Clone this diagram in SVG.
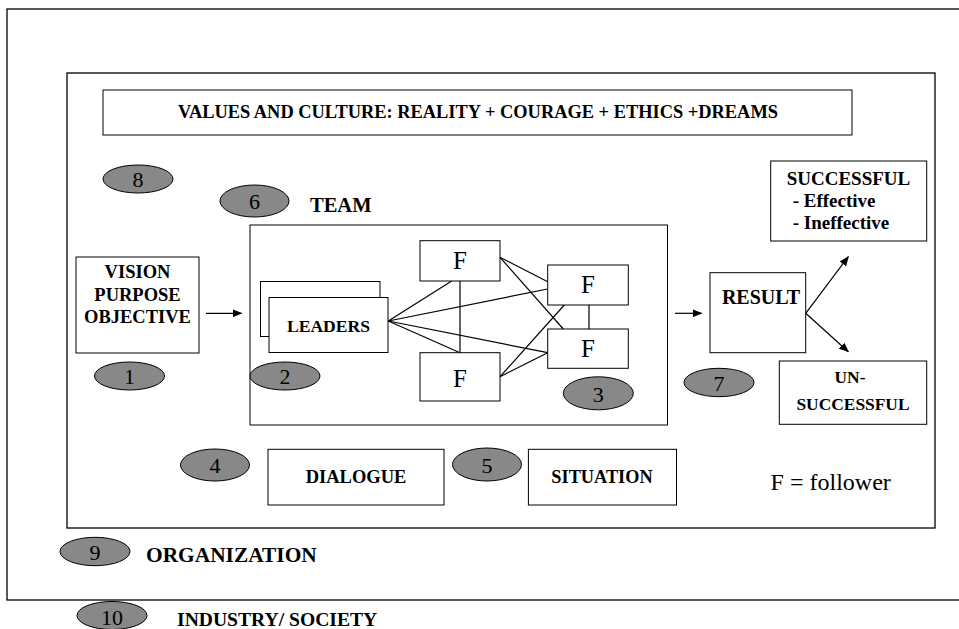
<svg xmlns="http://www.w3.org/2000/svg" width="959" height="629" viewBox="0 0 959 629">
<style>
text{font-family:"Liberation Serif","Times New Roman","DejaVu Serif","Noto Serif",serif;fill:#000}
.box{fill:#fff;stroke:#000;stroke-width:1}
.frame{fill:none;stroke:#000;stroke-width:1.3}
.ov{fill:#888;stroke:#000;stroke-width:1}
.num{font-size:22px;text-anchor:middle}
.b{font-weight:bold}
.c{text-anchor:middle}
.f{font-size:25px;text-anchor:middle}
.ln{stroke:#000;stroke-width:1.2;fill:none}
</style>
<defs>
<marker id="ah" markerWidth="10" markerHeight="8" refX="9" refY="4" orient="auto" markerUnits="userSpaceOnUse">
<path d="M0,0 L10,4 L0,8 Z" fill="#000"/>
</marker>
</defs>
<rect width="959" height="629" fill="#fff"/>
<g id="frames">
<rect class="frame" x="7" y="9" width="1000" height="591"/>
<rect class="frame" x="67" y="73" width="868" height="455"/>
</g>
<g id="values">
<rect class="box" x="103" y="90" width="749" height="45"/>
<text class="b c" x="478" y="118" font-size="18.4">VALUES AND CULTURE: REALITY + COURAGE + ETHICS +DREAMS</text>
</g>
<g id="n8"><ellipse class="ov" cx="138" cy="179" rx="35" ry="14"/><text class="num" x="138" y="187">8</text></g>
<g id="n6"><ellipse class="ov" cx="254.5" cy="201" rx="34.5" ry="16"/><text class="num" x="254.5" y="209">6</text></g>
<g id="team-label"><text class="b" x="310" y="212" font-size="20.5">TEAM</text></g>
<g id="vision">
<rect class="box" x="76" y="257" width="123" height="96"/>
<text class="b c" x="137.5" y="278" font-size="18.5">VISION</text>
<text class="b c" x="137.5" y="301" font-size="18.5">PURPOSE</text>
<text class="b c" x="137.5" y="323" font-size="18.5">OBJECTIVE</text>
</g>
<g id="n1"><ellipse class="ov" cx="129.5" cy="376" rx="35" ry="14"/><text class="num" x="129.5" y="384">1</text></g>
<g id="team">
<rect class="box" x="250" y="225" width="417.5" height="200"/>
</g>
<g id="leaders">
<rect class="box" x="260.5" y="281.5" width="119.5" height="55"/>
<rect class="box" x="269" y="297.5" width="119" height="55"/>
<text class="b c" x="328.5" y="332" font-size="17.6">LEADERS</text>
</g>
<g id="n2"><ellipse class="ov" cx="285" cy="376" rx="35" ry="14"/><text class="num" x="285" y="384">2</text></g>
<g id="connectors">
<line class="ln" x1="206" y1="313.3" x2="241.5" y2="313.3" marker-end="url(#ah)"/>
<line class="ln" x1="388.3" y1="321" x2="451.7" y2="281"/>
<line class="ln" x1="388.3" y1="321" x2="547.7" y2="289"/>
<line class="ln" x1="388.3" y1="321" x2="547.7" y2="352.7"/>
<line class="ln" x1="388.3" y1="321" x2="460" y2="352.7"/>
<line class="ln" x1="460" y1="281" x2="460" y2="352.7"/>
<line class="ln" x1="589" y1="305" x2="589" y2="329"/>
<line class="ln" x1="500" y1="257.3" x2="547.7" y2="281.7"/>
<line class="ln" x1="500" y1="257.3" x2="563.3" y2="329"/>
<line class="ln" x1="500" y1="376.7" x2="564.3" y2="305"/>
<line class="ln" x1="500" y1="376.7" x2="547.7" y2="352.7"/>
<line class="ln" x1="675" y1="313.3" x2="701.5" y2="313.3" marker-end="url(#ah)"/>
<line class="ln" x1="805.7" y1="313.3" x2="848.3" y2="256.7" marker-end="url(#ah)"/>
<line class="ln" x1="805.7" y1="313.3" x2="848.3" y2="351.7" marker-end="url(#ah)"/>
</g>
<g id="f1"><rect class="box" x="420" y="240.7" width="80" height="40.3"/><text class="f" x="460" y="268.5">F</text></g>
<g id="f2"><rect class="box" x="420" y="352.7" width="80" height="48.3"/><text class="f" x="460" y="386.5">F</text></g>
<g id="f3"><rect class="box" x="547.7" y="265" width="80.6" height="40"/><text class="f" x="588" y="293">F</text></g>
<g id="f4"><rect class="box" x="547.7" y="329" width="80.6" height="39.3"/><text class="f" x="588" y="357">F</text></g>
<g id="n3"><ellipse class="ov" cx="598.3" cy="393.3" rx="35" ry="16.5"/><text class="num" x="598.3" y="401.5">3</text></g>
<g id="result">
<rect class="box" x="710" y="272.7" width="95.7" height="80"/>
<text class="b c" x="761" y="304" font-size="20">RESULT</text>
</g>
<g id="n7"><ellipse class="ov" cx="719" cy="382.5" rx="35" ry="14.2"/><text class="num" x="719" y="390.5">7</text></g>
<g id="successful">
<rect class="box" x="770.7" y="161" width="156" height="80"/>
<text class="b c" x="848.5" y="185" font-size="19">SUCCESSFUL</text>
<text class="b" x="792.7" y="207" font-size="19">- Effective</text>
<text class="b" x="792.7" y="228.5" font-size="19">- Ineffective</text>
</g>
<g id="unsuccessful">
<rect class="box" x="779.3" y="361" width="147.4" height="63.3"/>
<text class="b c" x="850" y="382.5" font-size="17.4">UN-</text>
<text class="b c" x="853" y="410" font-size="17.4">SUCCESSFUL</text>
</g>
<g id="n4"><ellipse class="ov" cx="215" cy="465" rx="34.5" ry="16"/><text class="num" x="215" y="473">4</text></g>
<g id="dialogue">
<rect class="box" x="268" y="449.3" width="176" height="55.7"/>
<text class="b c" x="356" y="483.3" font-size="18.5">DIALOGUE</text>
</g>
<g id="n5"><ellipse class="ov" cx="487" cy="464.5" rx="34.5" ry="16.5"/><text class="num" x="487" y="472.5">5</text></g>
<g id="situation">
<rect class="box" x="528.4" y="449.3" width="148.1" height="55.7"/>
<text class="b c" x="602" y="483.3" font-size="18.3">SITUATION</text>
</g>
<g id="legend"><text x="770.6" y="490" font-size="24">F = follower</text></g>
<g id="n9"><ellipse class="ov" cx="95" cy="551.5" rx="35" ry="14.2"/><text class="num" x="95" y="559.5">9</text></g>
<g id="organization"><text class="b" x="146" y="562" font-size="21.4">ORGANIZATION</text></g>
<g id="n10"><ellipse class="ov" cx="112" cy="615.5" rx="35" ry="14"/><text class="num" x="112" y="625">10</text></g>
<g id="industry"><text class="b" x="177" y="626" font-size="19.6">INDUSTRY/ SOCIETY</text></g>
</svg>
